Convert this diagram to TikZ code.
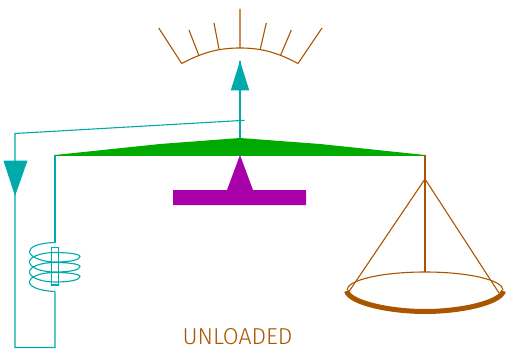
\documentclass[tikz,border=0pt]{standalone}
\usepackage{fontspec}
\newfontfamily\lblfont{Fira Sans Light}
\definecolor{wire}{RGB}{0,170,170}
\definecolor{brn}{RGB}{170,85,0}
\definecolor{grn}{RGB}{0,170,0}
\definecolor{pur}{RGB}{170,0,170}
\tikzset{wireline/.style={draw=wire,line width=1.1pt,line join=miter},
brnline/.style={draw=brn,line width=1.1pt},
lbl/.style={text=brn,font=\lblfont\fontsize{23}{23}\selectfont,inner sep=0pt}}
\begin{document}
\begin{tikzpicture}[x=1pt,y=-1pt]
\useasboundingbox (0,0) rectangle (506,350);
% gauge
\draw[brnline] (181.7,63.5) .. controls (205,51) and (222,48) .. (240,48) .. controls (258,48) and (275,51) .. (298,63.5);
\draw[brnline] (158.7,28)--(181.7,63.5) (189,30)--(198.7,55) (214,23)--(219,49) (240,9)--(240,48) (266.3,23)--(260.3,49) (291.3,30)--(280.7,55) (322,28)--(298,63.5);
% wires
\coordinate (hub) at (240,138);
\coordinate (tip) at (240,61);
\coordinate (beamL) at (55,155);
\coordinate (beamR) at (425,155);
\draw[wireline] (hub)--(tip);
\fill[wire] (240,61)--(249.3,90.5)--(230.7,90.5)--cycle;
\draw[wireline] (244.7,120.3)--(15,133.5)--(15,347.5)--(55,347.5)--(55,291.5);
\fill[wire] (15,196)--(27.5,160.7)--(3.5,160.7)--cycle;
\draw[wireline] (beamL)--(55,242.5);
% coil
\draw[wireline] (55,242.5) .. controls (38,243) and (29.5,247) .. (29.5,251.6) .. controls (29.5,256) and (40,262) .. (55,262) .. controls (70,262) and (80,260) .. (80,256.5) .. controls (80,254) and (68,252.5) .. (55,252.5) .. controls (40,252.5) and (29.5,257) .. (29.5,262) .. controls (29.5,267) and (40,272) .. (55,272) .. controls (70,272) and (80,270) .. (80,266.5) .. controls (80,264) and (68,262.5) .. (55,262.5) .. controls (40,262.5) and (29.5,267) .. (29.5,272) .. controls (29.5,277) and (40,282) .. (55,282) .. controls (70,282) and (80,280) .. (80,276.5) .. controls (80,274) and (68,272.5) .. (55,272.5) .. controls (40,272.5) and (29.5,277) .. (29.5,282) .. controls (29.5,287) and (40,291) .. (55,291.5);
\draw[wireline] (51.5,247.5) rectangle (58.7,285);
% beam and fulcrum
\fill[grn] (beamL)--(160,144)--(hub)--(320,144)--(beamR)--(425,155.8)--(55,155.8)--cycle;
\fill[pur] (240,155)--(253,190)--(306,190)--(306,205)--(173,205)--(173,190)--(227,190)--cycle;
% pan
\draw[brnline] (beamR)--(425,272);
\draw[brnline] (348,293)--(425,179)--(499,293);
\draw[brnline] (347,290) arc [start angle=180,end angle=360,x radius=78,y radius=18];
\draw[draw=brn,line width=5pt] (346.5,291) .. controls (350,303) and (390,311.5) .. (425,311.5) .. controls (460,311.5) and (500,303) .. (503.5,291);
\node[lbl,anchor=base] (t) at (237.5,344) {UNLOADED};
\end{tikzpicture}
\end{document}
